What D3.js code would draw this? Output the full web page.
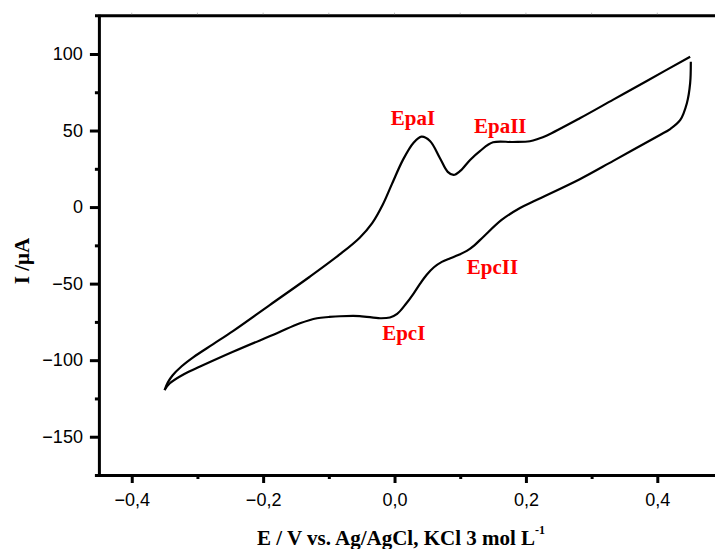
<!DOCTYPE html>
<html>
<head>
<meta charset="utf-8">
<script src="https://cdn.jsdelivr.net/npm/d3@7"></script>
<style>
  body { margin: 0; background: #fff; }
  svg { display: block; }
</style>
</head>
<body>
<div id="chart"></div>
<script>
(function() {

    var width = 715;
    var height = 549;

    // anodic scan (E in V, I in uA)
    var forwardE = [-0.350, -0.345, -0.338, -0.324, -0.306, -0.276, -0.246, -0.190, -0.129, -0.083,
                    -0.053, -0.034, -0.018, -0.004, 0.013, 0.029, 0.041, 0.054, 0.069, 0.081,
                    0.090, 0.100, 0.115, 0.130, 0.150, 0.180, 0.206, 0.219, 0.232, 0.282,
                    0.333, 0.384, 0.450];
    var forwardI = [-119.5, -114.5, -110.0, -104.0, -98.0, -89.5, -81.0, -64.0, -45.5, -30.8,
                    -20.0, -10.5, 1.5, 15.0, 31.0, 42.0, 46.0, 43.2, 32.1, 23.0,
                    21.0, 23.6, 30.8, 36.6, 42.3, 42.5, 43.0, 44.6, 46.8, 58.0,
                    70.2, 82.4, 98.2];

    // cathodic scan
    var reverseE = [0.451, 0.450, 0.445, 0.435, 0.419, 0.404, 0.333, 0.282,
                    0.216, 0.191, 0.163, 0.135, 0.122, 0.110, 0.097, 0.085, 0.072, 0.060,
                    0.049, 0.039, 0.029, 0.016, 0.004, -0.007, -0.022, -0.053, -0.083, -0.100,
                    -0.118, -0.144, -0.179, -0.245, -0.296, -0.320, -0.342, -0.350];
    var reverseI = [95.0, 80.9, 67.8, 56.9, 50.8, 47.1, 30.2, 18.2,
                    4.6, -0.6, -8.4, -19.5, -24.8, -28.6, -31.3, -33.4, -35.8, -39.3,
                    -44.2, -50.0, -56.5, -64.0, -69.8, -72.1, -72.6, -71.2, -71.3, -71.8,
                    -72.6, -75.9, -82.4, -94.4, -104.2, -109.0, -115.1, -119.5];

    var peakNames = ["EpaI", "EpaII", "EpcII", "EpcI"];
    var peakE = [0.028, 0.161, 0.149, 0.014];
    var peakI = [53.6, 48.6, -43.7, -86.8];

    var xMajor = [-0.4, -0.2, 0.0, 0.2, 0.4];
    var xMinor = [-0.3, -0.1, 0.1, 0.3];
    var yMajor = [-150, -100, -50, 0, 50, 100];
    var yMinor = [-175, -125, -75, -25, 25, 75];

    var x = d3.scaleLinear().domain([-0.45, 0.5]).range([98.9, 723]);
    var y = d3.scaleLinear().domain([-175, 125]).range([475, 15.7]);

    var svg = d3.select("#chart")
        .append("svg")
        .attr("width", width)
        .attr("height", height);

    var comma = d => d3.format(".1f")(d).replace(".", ",");

    // top frame line with faint ticks
    svg.append("line")
        .attr("x1", 95).attr("x2", width)
        .attr("y1", y(125)).attr("y2", y(125))
        .attr("stroke", "#000").attr("stroke-width", 3);

    svg.selectAll(".topTick")
        .data(xMajor.concat(xMinor))
        .enter().append("line")
        .attr("class", "topTick")
        .attr("x1", d => x(d)).attr("x2", d => x(d))
        .attr("y1", y(125) - 3).attr("y2", y(125) - 1.5)
        .attr("stroke", "#bbb").attr("stroke-width", 1);

    // x axis
    svg.append("g")
        .attr("transform", "translate(0," + y(-175) + ")")
        .call(d3.axisBottom(x).tickValues(xMajor).tickFormat(comma)
            .tickSize(8).tickSizeOuter(0).tickPadding(10));

    svg.append("g")
        .attr("transform", "translate(0," + y(-175) + ")")
        .call(d3.axisBottom(x).tickValues(xMinor).tickFormat("")
            .tickSize(4).tickSizeOuter(0))
        .select(".domain").remove();

    // y axis
    svg.append("g")
        .attr("transform", "translate(" + x(-0.45) + ",0)")
        .call(d3.axisLeft(y).tickValues(yMajor)
            .tickSize(9).tickSizeOuter(0).tickPadding(7));

    svg.append("g")
        .attr("transform", "translate(" + x(-0.45) + ",0)")
        .call(d3.axisLeft(y).tickValues(yMinor).tickFormat("")
            .tickSize(4).tickSizeOuter(0))
        .select(".domain").remove();

    svg.selectAll(".domain")
        .attr("stroke-width", 3)
        .attr("stroke-linecap", "square");
    svg.selectAll(".tick line")
        .attr("stroke-width", 3);
    svg.selectAll(".tick text")
        .attr("font-family", "'Liberation Sans', Arial, sans-serif")
        .attr("font-size", 18)
        .attr("fill", "#000");

    // voltammogram, each sweep drawn as its own smooth branch
    var forwardPts = forwardE.map((e, i) => [e, forwardI[i]]);
    var reversePts = reverseE.map((e, i) => [e, reverseI[i]]);

    var line = d3.line()
        .x(d => x(d[0]))
        .y(d => y(d[1]))
        .curve(d3.curveCatmullRom.alpha(0.5));

    svg.selectAll(".sweep")
        .data([forwardPts, reversePts])
        .enter().append("path")
        .attr("class", "sweep")
        .attr("d", line)
        .attr("fill", "none")
        .attr("stroke", "#000")
        .attr("stroke-width", 2.2)
        .attr("stroke-linejoin", "round");

    // peak labels
    svg.selectAll(".peak")
        .data(peakNames)
        .enter().append("text")
        .attr("class", "peak")
        .attr("x", (d, i) => x(peakE[i]))
        .attr("y", (d, i) => y(peakI[i]))
        .attr("text-anchor", "middle")
        .attr("font-family", "'Liberation Serif', 'Times New Roman', serif")
        .attr("font-weight", "bold")
        .attr("font-size", 21)
        .attr("fill", "#ff0000")
        .text(d => d);

    // axis titles
    var xt = svg.append("text")
        .attr("x", 257)
        .attr("y", 545)
        .attr("font-family", "'Liberation Serif', 'Times New Roman', serif")
        .attr("font-weight", "bold")
        .attr("font-size", 21)
        .attr("fill", "#000");
    xt.append("tspan").text("E / V vs. Ag/AgCl, KCl 3 mol L");
    xt.append("tspan")
        .attr("dy", -11)
        .attr("font-size", 12)
        .text("-1");

    svg.append("text")
        .attr("transform", "translate(28.5,261) rotate(-90)")
        .attr("text-anchor", "middle")
        .attr("font-family", "'Liberation Serif', 'Times New Roman', serif")
        .attr("font-weight", "bold")
        .attr("font-size", 21)
        .attr("fill", "#000")
        .text("I /\u03BCA");

})();
</script>
</body>
</html>
